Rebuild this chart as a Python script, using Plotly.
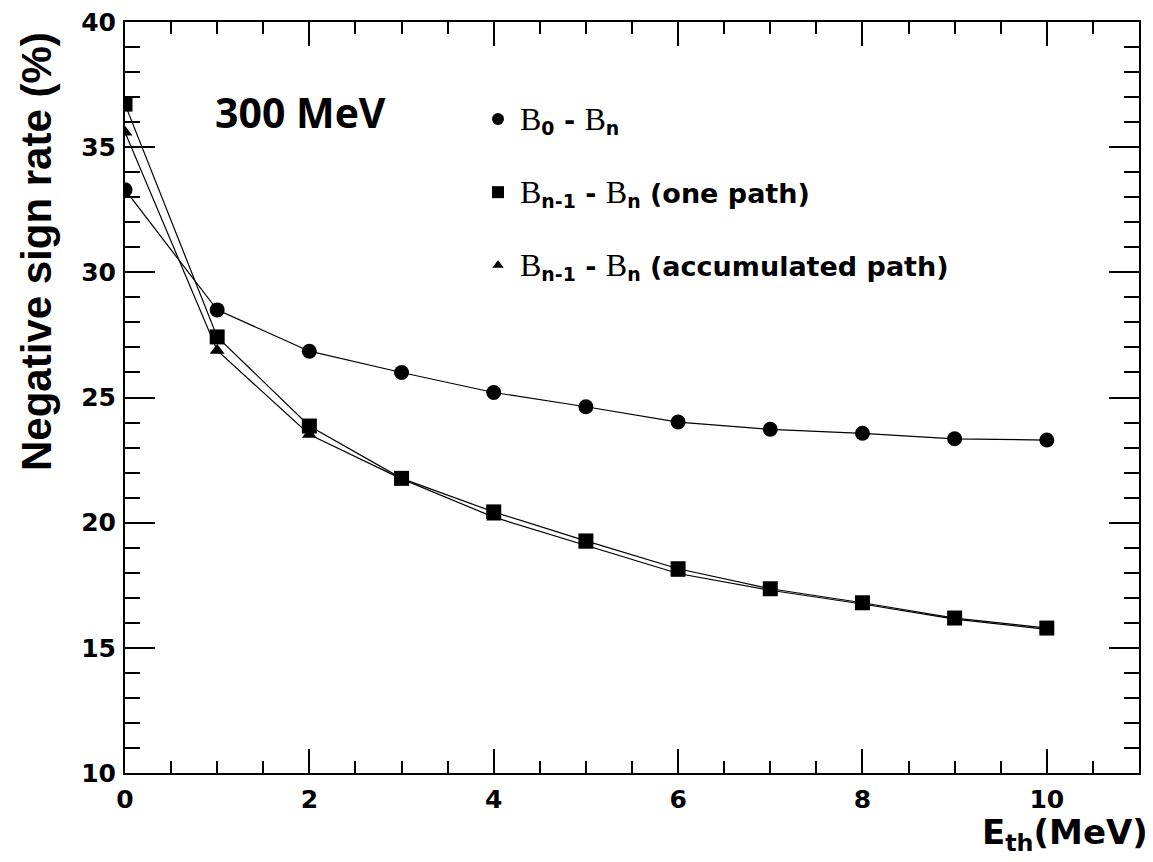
import plotly.graph_objects as go

e_th = [0, 1, 2, 3, 4, 5, 6, 7, 8, 9, 10]
b0_bn = [33.3, 28.5, 26.85, 26.0, 25.2, 24.63, 24.02, 23.73, 23.57, 23.35, 23.30]
bn1_one = [36.72, 27.42, 23.86, 21.77, 20.43, 19.27, 18.16, 17.36, 16.80, 16.19, 15.79]
bn1_acc = [35.6, 26.88, 23.52, 21.75, 20.22, 19.10, 17.97, 17.30, 16.75, 16.15, 15.74]

B = "<span style='font-family:Liberation Serif;font-weight:normal;font-size:32px'>B</span>"
names = [
    f"{B}<sub>0</sub> - {B}<sub>n</sub>",
    f"{B}<sub>n-1</sub> - {B}<sub>n</sub> (one path)",
    f"{B}<sub>n-1</sub> - {B}<sub>n</sub> (accumulated path)",
]
symbols = ["circle", "square", "triangle-up"]
sizes = [15, 15, 13]
leg_sizes = [12, 12, 10]
series = [b0_bn, bn1_one, bn1_acc]

# page body has an 8px margin; compensate so the plot lands where it should
OFF = 8
W, H = 1153 - OFF, 862 - OFF
PL, PR, PT, PB = 125, 1139, 22, 773   # target plot-area pixels in the page
pw, ph = PR - PL, PB - PT


def px(x):
    return (x - PL) / pw


def py(y):
    return 1 - (y - PT) / ph


fig = go.Figure()
for ys, sym, sz in zip(series, symbols, sizes):
    fig.add_trace(go.Scatter(
        x=e_th, y=ys, mode="lines+markers", showlegend=False,
        line=dict(color="black", width=1.2),
        marker=dict(symbol=sym, size=sz, color="black"),
    ))
for i, (nm, sym, sz) in enumerate(zip(names, symbols, leg_sizes)):
    fig.add_trace(go.Scatter(
        x=[None], y=[None], mode="markers", name=nm, legendgroup=f"g{i}",
        marker=dict(symbol=sym, size=sz, color="black"),
    ))

axis_common = dict(
    showline=True, linecolor="black", linewidth=2, mirror="ticks",
    ticks="inside", tickcolor="black", tickwidth=2,
    showgrid=False, zeroline=False, ticklabeloverflow="allow", automargin=False,
    tickfont=dict(family="DejaVu Sans", size=25, color="black", weight="bold"),
)

fig.update_xaxes(range=[0, 11], tick0=0, dtick=2, ticklen=24, ticklabelstandoff=3,
                 minor=dict(dtick=0.5, ticklen=12, tickcolor="black", tickwidth=2, ticks="inside"),
                 **axis_common)
fig.update_yaxes(range=[10, 40], tick0=10, dtick=5, ticklen=30, ticklabelstandoff=2,
                 minor=dict(dtick=1, ticklen=15, tickcolor="black", tickwidth=2, ticks="inside"),
                 **axis_common)

fig.add_annotation(text="<b>300 MeV</b>", xref="paper", yref="paper",
                   x=px(213), y=py(112), xanchor="left", yanchor="middle",
                   showarrow=False, font=dict(family="Open Sans", size=41, color="black"))
fig.add_annotation(text="<b>Negative sign rate (%)</b>", xref="paper", yref="paper",
                   x=px(36), y=py(252), xanchor="center", yanchor="middle", textangle=-90,
                   showarrow=False, font=dict(family="Liberation Sans", size=42, color="black"))
fig.add_annotation(text="<b>E<sub>th</sub>(MeV)</b>", xref="paper", yref="paper",
                   x=px(1150), y=py(810), xanchor="right", yanchor="top",
                   showarrow=False, font=dict(family="DejaVu Sans", size=34, color="black"))

fig.update_layout(
    width=W, height=H,
    margin=dict(l=PL - OFF, r=1153 - PR, t=PT - OFF, b=862 - PB, autoexpand=False),
    plot_bgcolor="white", paper_bgcolor="white",
    legend=dict(x=px(476), y=py(95), xanchor="left", yanchor="top",
                bgcolor="rgba(0,0,0,0)", traceorder="grouped", tracegroupgap=35,
                font=dict(family="DejaVu Sans", size=27, color="black", weight="bold"),
                itemwidth=34),
)

fig.write_html("out.html")
